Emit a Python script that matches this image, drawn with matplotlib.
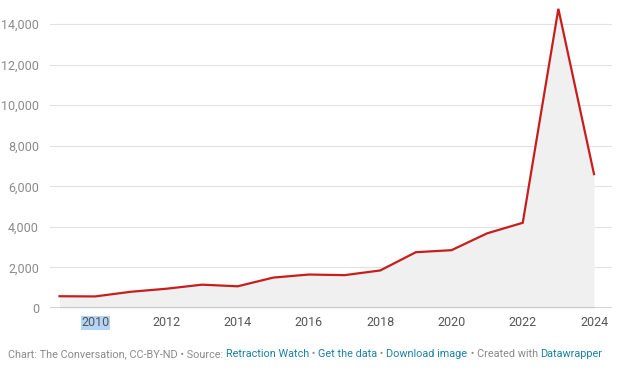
"""Retractions per year, Datawrapper-style area line."""

import matplotlib

matplotlib.use("Agg")
import matplotlib.pyplot as plt

years = [2009, 2010, 2011, 2012, 2013, 2014, 2015, 2016,
         2017, 2018, 2019, 2020, 2021, 2022, 2023, 2024]
retractions = [580, 570, 800, 950, 1150, 1070, 1500, 1650,
               1620, 1850, 2750, 2850, 3680, 4200, 14750, 6600]
y_ticks = [0, 2000, 4000, 6000, 8000, 10000, 12000, 14000]
x_ticks = [2010, 2012, 2014, 2016, 2018, 2020, 2022, 2024]

footer = [
    ("Chart: The Conversation, CC-BY-ND \u2022 Source: ", "#8a8a8a"),
    ("Retraction Watch", "#1d81a2"),
    (" \u2022 ", "#8a8a8a"),
    ("Get the data", "#1d81a2"),
    (" \u2022 ", "#8a8a8a"),
    ("Download image", "#1d81a2"),
    (" \u2022 Created with ", "#8a8a8a"),
    ("Datawrapper", "#1d81a2"),
]

plt.rcParams["font.family"] = ["Roboto", "DejaVu Sans"]

W, H = 620, 388
fig = plt.figure(figsize=(W / 100, H / 100), dpi=100)
ax = fig.add_axes([50 / W, (H - 308) / H, 562 / W, 300 / H])

ax.fill_between(years, retractions, 0, color="#f0f0f0", lw=0, zorder=1)
ax.plot(years, retractions, color="#c71e1d", lw=1.6, zorder=3,
        solid_joinstyle="miter", clip_on=False)

ax.set_xlim(2008.733, 2024.505)
ax.set_ylim(0, 300 / 0.020286)

ax.set_yticks(y_ticks)
ax.set_yticklabels([f"{v:,}" for v in y_ticks])
ax.set_xticks(x_ticks)
ax.set_xticklabels([str(v) for v in x_ticks])
ax.tick_params(axis="y", length=0, pad=8, labelsize=9, labelcolor="#8a8a8a")
ax.tick_params(axis="x", length=0, pad=6, labelsize=9, labelcolor="#555555")

for v in y_ticks[1:]:
    ax.axhline(v, color="#e2e2e2", lw=0.8, zorder=0)
ax.axhline(0, color="#222222", lw=1, zorder=4)

for s in ax.spines.values():
    s.set_visible(False)

# the 2010 label shows a text-selection highlight in the original
ax.get_xticklabels()[0].set_bbox(dict(facecolor="#b4d5f5", edgecolor="none", pad=0.3))

fig.canvas.draw()
renderer = fig.canvas.get_renderer()
x = 8 / W
for txt, col in footer:
    t = fig.text(x, (H - 354) / H, txt, color=col, fontsize=7.8, va="center", ha="left")
    bb = t.get_window_extent(renderer)
    x = bb.x1 / W

fig.savefig("out.png", dpi=100)
plt.close(fig)
